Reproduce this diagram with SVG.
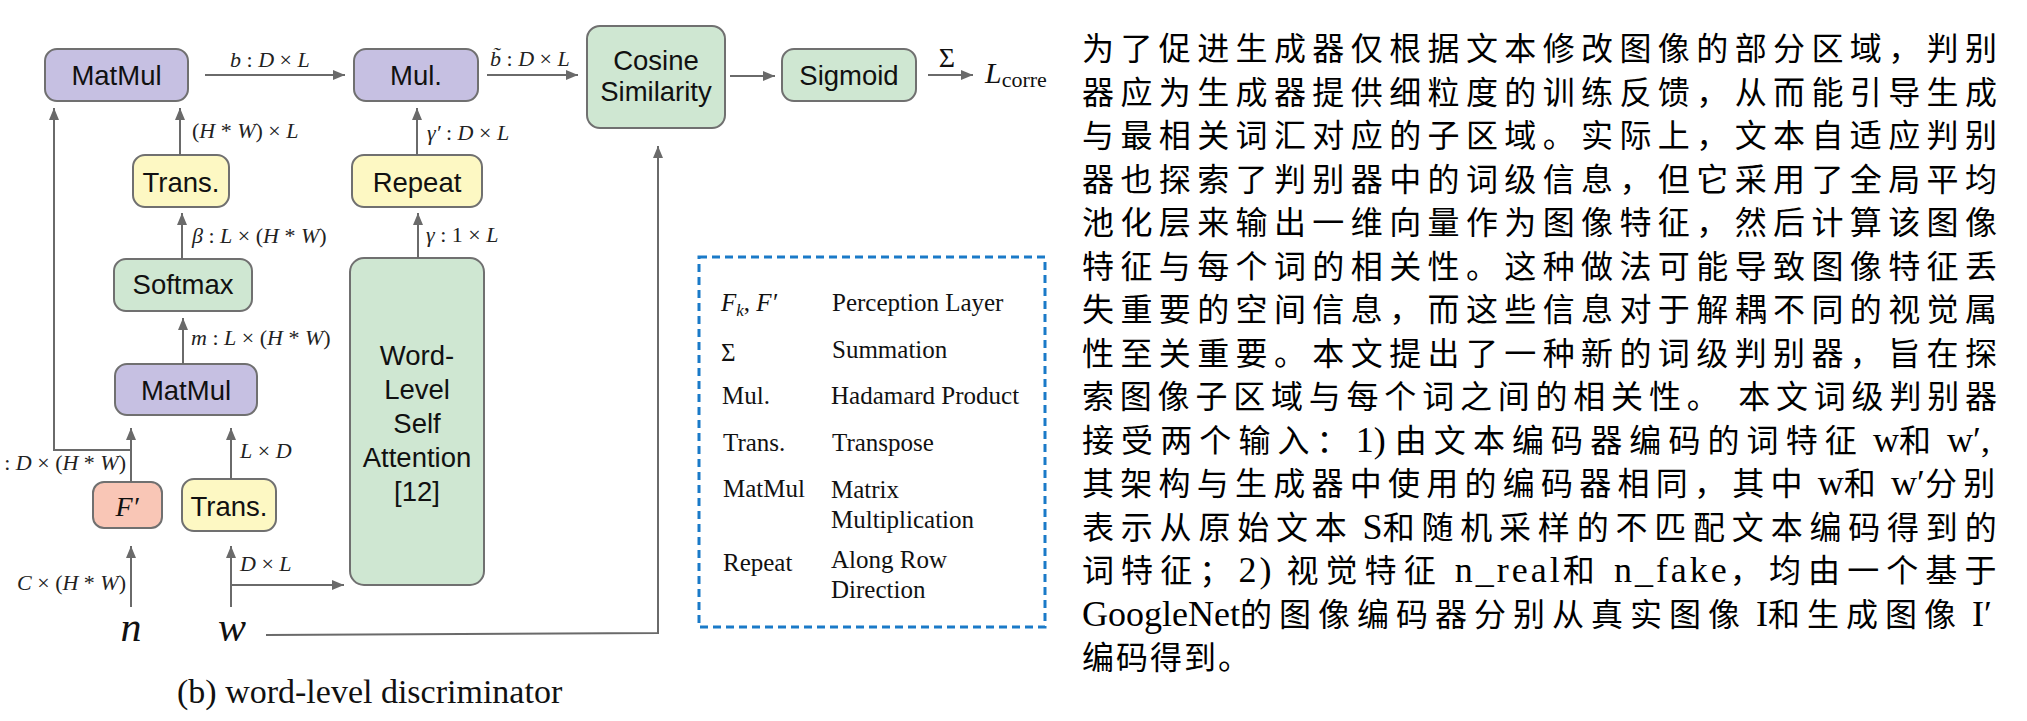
<svg xmlns="http://www.w3.org/2000/svg" width="2027" height="721" viewBox="0 0 2027 721">
<style>
.box{stroke:#707070;stroke-width:2}
.lav{fill:#c6c0e2}.yel{fill:#fdf8c3}.grn{fill:#cfe7d2}.sal{fill:#f9c6b6}
.nt{font-family:'Liberation Sans',Arial,sans-serif;font-size:27.5px;fill:#111;text-anchor:middle}
.m{font-family:'Liberation Serif','Times New Roman',serif;font-size:22px;fill:#222}
.i{font-style:italic}
.lg{font-family:'Liberation Serif','Times New Roman',serif;font-size:25px;fill:#111}
.cn{font-family:'Liberation Serif','Noto Sans CJK SC',serif;font-size:32px;fill:#000}
.la{font-size:36px;letter-spacing:0}
.la3{font-size:36px;letter-spacing:3px}
.con line,.con polyline{stroke:#6a6a6a;stroke-width:2;fill:none}
</style>
<defs>
<marker id="ah" markerWidth="12" markerHeight="10" refX="12" refY="5" orient="auto" markerUnits="userSpaceOnUse"><path d="M0,0 L12,5 L0,10 z" fill="#6a6a6a"/></marker>
</defs>
<rect width="2027" height="721" fill="#fff"/>

<g id="matmul1"><rect class="box lav" x="45" y="49" width="143" height="52" rx="12"/><text class="nt" x="116.5" y="85">MatMul</text></g>
<g id="mul"><rect class="box lav" x="354" y="49" width="124" height="52" rx="12"/><text class="nt" x="416" y="85">Mul.</text></g>
<g id="cosine"><rect class="box grn" x="587" y="26" width="138" height="102" rx="13"/><text class="nt" x="656" y="70">Cosine</text><text class="nt" x="656" y="101">Similarity</text></g>
<g id="sigmoid"><rect class="box grn" x="782" y="49" width="134" height="52" rx="12"/><text class="nt" x="849" y="85">Sigmoid</text></g>
<g id="trans1"><rect class="box yel" x="133" y="155" width="96" height="52" rx="12"/><text class="nt" x="181" y="192">Trans.</text></g>
<g id="repeat"><rect class="box yel" x="352" y="155" width="130" height="52" rx="12"/><text class="nt" x="417" y="192">Repeat</text></g>
<g id="softmax"><rect class="box grn" x="114" y="259" width="138" height="52" rx="12"/><text class="nt" x="183" y="294">Softmax</text></g>
<g id="matmul2"><rect class="box lav" x="115" y="364" width="142" height="51" rx="12"/><text class="nt" x="186" y="400">MatMul</text></g>
<g id="wordattn"><rect class="box grn" x="350" y="258" width="134" height="327" rx="14"/>
<text class="nt" x="417" y="365">Word-</text><text class="nt" x="417" y="399">Level</text><text class="nt" x="417" y="433">Self</text><text class="nt" x="417" y="467">Attention</text><text class="nt" x="417" y="501">[12]</text></g>
<g id="fprime"><rect class="box sal" x="93" y="482" width="69" height="46" rx="11"/><text x="127" y="516" text-anchor="middle" font-family="'Liberation Serif',serif" font-style="italic" font-size="28" fill="#111">F′</text></g>
<g id="trans2"><rect class="box yel" x="182" y="479" width="94" height="52" rx="12"/><text class="nt" x="229" y="516">Trans.</text></g>
<g id="input-n"><text x="131" y="641" text-anchor="middle" font-family="'Liberation Serif',serif" font-style="italic" font-size="42" fill="#111">n</text></g>
<g id="input-w"><text x="232" y="641" text-anchor="middle" font-family="'Liberation Serif',serif" font-style="italic" font-size="42" fill="#111">w</text></g>
<g id="output"><text x="947" y="67" text-anchor="middle" font-family="'Liberation Serif',serif" font-size="28" fill="#111">Σ</text>
<text x="985" y="83" font-family="'Liberation Serif',serif" font-size="30" fill="#111"><tspan font-style="italic">L</tspan><tspan font-size="22" dy="4">corre</tspan></text></g>

<g class="con" id="connectors">
<line x1="205" y1="75" x2="345" y2="75" marker-end="url(#ah)"/>
<line x1="487" y1="75" x2="578" y2="75" marker-end="url(#ah)"/>
<line x1="730" y1="76" x2="775" y2="76" marker-end="url(#ah)"/>
<line x1="928" y1="75" x2="973" y2="75" marker-end="url(#ah)"/>
<line x1="180" y1="155" x2="180" y2="108" marker-end="url(#ah)"/>
<line x1="182" y1="259" x2="182" y2="213" marker-end="url(#ah)"/>
<line x1="183" y1="364" x2="183" y2="318" marker-end="url(#ah)"/>
<line x1="417" y1="155" x2="417" y2="108" marker-end="url(#ah)"/>
<line x1="418" y1="258" x2="418" y2="213" marker-end="url(#ah)"/>
<line x1="131" y1="482" x2="131" y2="428" marker-end="url(#ah)"/>
<polyline points="131,450 54,450 54,108" marker-end="url(#ah)"/>
<line x1="231" y1="479" x2="231" y2="428" marker-end="url(#ah)"/>
<line x1="131" y1="607" x2="131" y2="546" marker-end="url(#ah)"/>
<line x1="231" y1="607" x2="231" y2="546" marker-end="url(#ah)"/>
<line x1="231" y1="585" x2="344" y2="585" marker-end="url(#ah)"/>
<polyline points="266,635 658,633 658,146" marker-end="url(#ah)"/>
</g>

<g id="edge-labels">
<text class="m" x="230" y="67"><tspan class="i">b</tspan> : <tspan class="i">D</tspan> × <tspan class="i">L</tspan></text>
<text class="m" x="490" y="66"><tspan class="i">b̃</tspan> : <tspan class="i">D</tspan> × <tspan class="i">L</tspan></text>
<text class="m" x="192" y="138">(<tspan class="i">H</tspan> * <tspan class="i">W</tspan>) × <tspan class="i">L</tspan></text>
<text class="m" x="192" y="243"><tspan class="i">β</tspan> : <tspan class="i">L</tspan> × (<tspan class="i">H</tspan> * <tspan class="i">W</tspan>)</text>
<text class="m" x="427" y="140"><tspan class="i">γ′</tspan> : <tspan class="i">D</tspan> × <tspan class="i">L</tspan></text>
<text class="m" x="426" y="242"><tspan class="i">γ</tspan> : 1 × <tspan class="i">L</tspan></text>
<text class="m" x="191" y="345"><tspan class="i">m</tspan> : <tspan class="i">L</tspan> × (<tspan class="i">H</tspan> * <tspan class="i">W</tspan>)</text>
<text class="m" x="240" y="458"><tspan class="i">L</tspan> × <tspan class="i">D</tspan></text>
<text class="m" x="126" y="470" text-anchor="end">: <tspan class="i">D</tspan> × (<tspan class="i">H</tspan> * <tspan class="i">W</tspan>)</text>
<text class="m" x="126" y="590" text-anchor="end"><tspan class="i">C</tspan> × (<tspan class="i">H</tspan> * <tspan class="i">W</tspan>)</text>
<text class="m" x="240" y="571"><tspan class="i">D</tspan> × <tspan class="i">L</tspan></text>
</g>

<g id="legend">
<rect x="699" y="257" width="346" height="370" fill="none" stroke="#1a7ac8" stroke-width="3" stroke-dasharray="8 5"/>
<text class="lg" x="721" y="311"><tspan class="i">F</tspan><tspan class="i" font-size="17" dy="5">k</tspan><tspan dy="-5">, </tspan><tspan class="i">F′</tspan></text>
<text class="lg" x="832" y="311">Perception Layer</text>
<text class="lg" x="721" y="361" font-size="33">Σ</text>
<text class="lg" x="832" y="358">Summation</text>
<text class="lg" x="722" y="404">Mul.</text>
<text class="lg" x="831" y="404">Hadamard Product</text>
<text class="lg" x="723" y="451">Trans.</text>
<text class="lg" x="832" y="451">Transpose</text>
<text class="lg" x="723" y="497">MatMul</text>
<text class="lg" x="831" y="498">Matrix</text>
<text class="lg" x="831" y="528">Multiplication</text>
<text class="lg" x="723" y="571">Repeat</text>
<text class="lg" x="831" y="568">Along Row</text>
<text class="lg" x="831" y="598">Direction</text>
</g>

<g id="caption"><text x="177" y="703" font-family="'Liberation Serif','Times New Roman',serif" font-size="34" fill="#111">(b) word-level discriminator</text></g>

<g id="body-text">
<text class="cn" x="1082" y="60" textLength="915" lengthAdjust="spacing">为了促进生成器仅根据文本修改图像的部分区域，判别</text>
<text class="cn" x="1082" y="103.5" textLength="915" lengthAdjust="spacing">器应为生成器提供细粒度的训练反馈，从而能引导生成</text>
<text class="cn" x="1082" y="147" textLength="915" lengthAdjust="spacing">与最相关词汇对应的子区域。实际上，文本自适应判别</text>
<text class="cn" x="1082" y="190.5" textLength="915" lengthAdjust="spacing">器也探索了判别器中的词级信息，但它采用了全局平均</text>
<text class="cn" x="1082" y="234" textLength="915" lengthAdjust="spacing">池化层来输出一维向量作为图像特征，然后计算该图像</text>
<text class="cn" x="1082" y="277.5" textLength="915" lengthAdjust="spacing">特征与每个词的相关性。这种做法可能导致图像特征丢</text>
<text class="cn" x="1082" y="321" textLength="915" lengthAdjust="spacing">失重要的空间信息，而这些信息对于解耦不同的视觉属</text>
<text class="cn" x="1082" y="364.5" textLength="915" lengthAdjust="spacing">性至关重要。本文提出了一种新的词级判别器，旨在探</text>
<text class="cn" x="1082" y="408" textLength="915" lengthAdjust="spacing">索图像子区域与每个词之间的相关性。 本文词级判别器</text>
<text class="cn" x="1082" y="451.5" letter-spacing="7.1">接受两个输入：<tspan class="la">1) </tspan>由文本编码器编码的词特征<tspan class="la"> w</tspan>和<tspan class="la"> w′,</tspan></text>
<text class="cn" x="1082" y="495" letter-spacing="6.25">其架构与生成器中使用的编码器相同，其中<tspan class="la"> w</tspan>和<tspan class="la"> w′</tspan>分别</text>
<text class="cn" x="1082" y="538.5" letter-spacing="6.8">表示从原始文本<tspan class="la"> S</tspan>和随机采样的不匹配文本编码得到的</text>
<text class="cn" x="1082" y="582" letter-spacing="7.1">词特征；<tspan class="la3">2) </tspan>视觉特征<tspan class="la3"> n_real</tspan>和<tspan class="la3"> n_fake</tspan>，均由一个基于</text>
<text class="cn" x="1082" y="625.5" letter-spacing="7"><tspan class="la">GoogleNet</tspan>的图像编码器分别从真实图像<tspan class="la"> I</tspan>和生成图像<tspan class="la"> I′</tspan></text>
<text class="cn" x="1082" y="669" letter-spacing="2">编码得到。</text>
</g>
</svg>
